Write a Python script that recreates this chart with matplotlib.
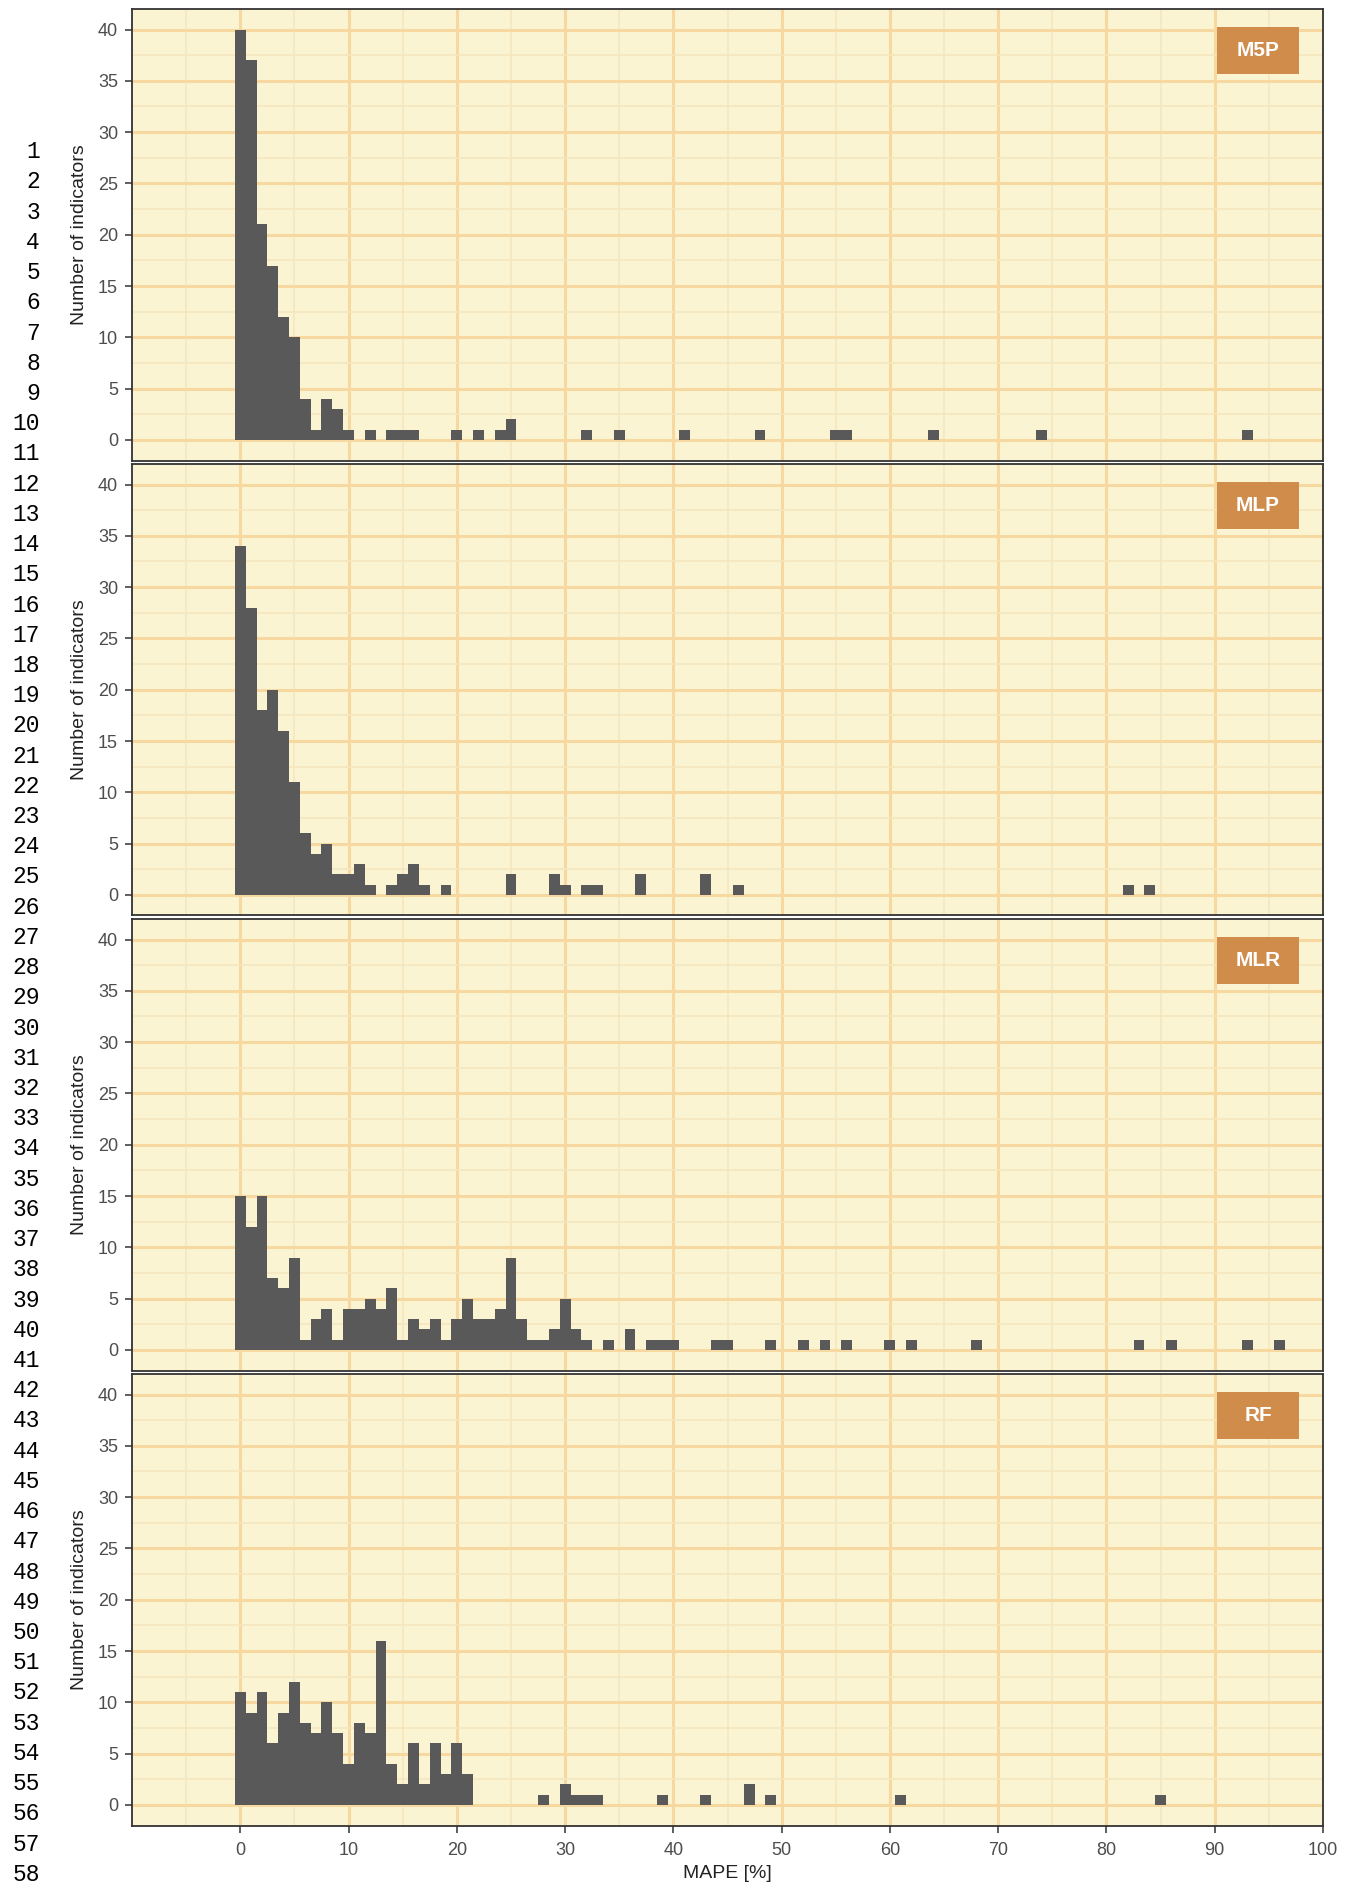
import matplotlib
matplotlib.use("Agg")
import matplotlib.pyplot as plt
from matplotlib.patches import Rectangle

# histogram counts per 1%-wide MAPE bin (bin centre -> number of indicators)
MODELS = ["M5P", "MLP", "MLR", "RF"]

m5p_bins = [0, 1, 2, 3, 4, 5, 6, 7, 8, 9, 10, 12, 14, 15, 16, 20, 22, 24, 25,
            32, 35, 41, 48, 55, 56, 64, 74, 93]
m5p_counts = [40, 37, 21, 17, 12, 10, 4, 1, 4, 3, 1, 1, 1, 1, 1, 1, 1, 1, 2,
              1, 1, 1, 1, 1, 1, 1, 1, 1]

mlp_bins = [0, 1, 2, 3, 4, 5, 6, 7, 8, 9, 10, 11, 12, 14, 15, 16, 17, 19,
            25, 29, 30, 32, 33, 37, 43, 46, 82, 84]
mlp_counts = [34, 28, 18, 20, 16, 11, 6, 4, 5, 2, 2, 3, 1, 1, 2, 3, 1, 1,
              2, 2, 1, 1, 1, 2, 2, 1, 1, 1]

mlr_bins = [0, 1, 2, 3, 4, 5, 6, 7, 8, 9, 10, 11, 12, 13, 14, 15, 16, 17, 18,
            19, 20, 21, 22, 23, 24, 25, 26, 27, 28, 29, 30, 31, 32, 34, 36,
            38, 39, 40, 44, 45, 49, 52, 54, 56, 60, 62, 68, 83, 86, 93, 96]
mlr_counts = [15, 12, 15, 7, 6, 9, 1, 3, 4, 1, 4, 4, 5, 4, 6, 1, 3, 2, 3,
              1, 3, 5, 3, 3, 4, 9, 3, 1, 1, 2, 5, 2, 1, 1, 2,
              1, 1, 1, 1, 1, 1, 1, 1, 1, 1, 1, 1, 1, 1, 1, 1]

rf_bins = [0, 1, 2, 3, 4, 5, 6, 7, 8, 9, 10, 11, 12, 13, 14, 15, 16, 17, 18,
           19, 20, 21, 28, 30, 31, 32, 33, 39, 43, 47, 49, 61, 85]
rf_counts = [11, 9, 11, 6, 9, 12, 8, 7, 10, 7, 4, 8, 7, 16, 4, 2, 6, 2, 6,
             3, 6, 3, 1, 2, 1, 1, 1, 1, 1, 2, 1, 1, 1]

DATA = {"M5P": (m5p_bins, m5p_counts), "MLP": (mlp_bins, mlp_counts),
        "MLR": (mlr_bins, mlr_counts), "RF": (rf_bins, rf_counts)}

X_TICKS = list(range(0, 101, 10))
Y_TICKS = list(range(0, 41, 5))

BG = "#FAF4D2"; GRID_MAJ = "#F7D8A0"; GRID_MIN = "#F5E6BC"
BAR = "#595959"; STRIP = "#CF8C4B"; BORDER = "#333333"; TXT = "#4D4D4D"

plt.rcParams["font.family"] = ["Liberation Sans", "DejaVu Sans"]

W, H = 1352, 1887
fig = plt.figure(figsize=(W / 100, H / 100), dpi=100)

left, right = 132, 1323
ph, step, top0 = 451.5, 455, 9
for i, m in enumerate(MODELS):
    top = top0 + step * i
    ax = fig.add_axes([left / W, 1 - (top + ph) / H, (right - left) / W, ph / H])
    ax.set_facecolor(BG)
    bins, counts = DATA[m]
    ax.bar(bins, counts, width=1.0, color=BAR, linewidth=0, zorder=3)
    ax.set_xlim(-10, 100)
    ax.set_ylim(-2, 42)
    ax.set_xticks(X_TICKS)
    ax.set_xticks([x + 5 for x in range(-10, 100, 10)], minor=True)
    ax.set_yticks(Y_TICKS)
    ax.set_yticks([y + 2.5 for y in range(0, 40, 5)], minor=True)
    ax.grid(which="major", color=GRID_MAJ, lw=2.2, zorder=1)
    ax.grid(which="minor", color=GRID_MIN, lw=1.1, zorder=1)
    ax.set_axisbelow(True)
    for s in ax.spines.values():
        s.set_color(BORDER); s.set_linewidth(1.3)
    ax.tick_params(axis="y", which="major", length=5, width=1.1, color=BORDER,
                   labelsize=13, labelcolor=TXT, pad=5)
    ax.tick_params(which="minor", length=0)
    if i < len(MODELS) - 1:
        ax.tick_params(axis="x", which="major", length=0, labelbottom=False)
    else:
        ax.tick_params(axis="x", which="major", length=5, width=1.1, color=BORDER,
                       labelsize=13, labelcolor=TXT, pad=7)
        ax.set_xlabel("MAPE [%]", fontsize=14, color="#222222", labelpad=4)
    ax.text(-0.0437, 0.5, "Number of indicators", transform=ax.transAxes,
            rotation=90, ha="center", va="center", fontsize=14, color="#222222")
    ax.add_patch(Rectangle((90.2, 35.7), 7.6, 4.55, facecolor=STRIP,
                           edgecolor="none", zorder=5))
    ax.text(94.0, 37.97, m, ha="center", va="center", fontsize=15,
            fontweight="bold", color="white", zorder=6)

# manuscript line numbers in the left margin
for n in range(1, 59):
    yc = 151.7 + 30.22 * (n - 1)
    fig.text(40 / W, 1 - yc / H, str(n), ha="right", va="center",
             fontsize=16.5, family=["Liberation Mono", "DejaVu Sans Mono"])

fig.savefig("out.png", dpi=100, facecolor="white")
